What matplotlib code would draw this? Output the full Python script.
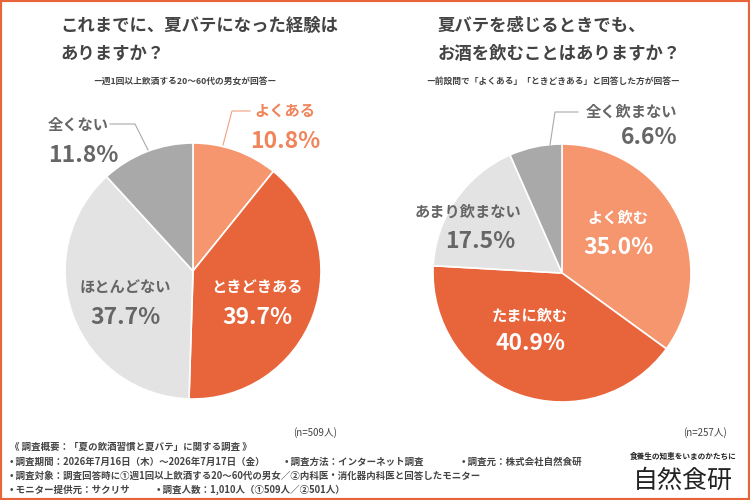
import matplotlib
matplotlib.use("Agg")
import matplotlib.pyplot as plt
from matplotlib.patches import Rectangle
from matplotlib.lines import Line2D

plt.rcParams['font.family'] = ['Noto Sans CJK JP', 'DejaVu Sans']

q1_labels = ["よくある", "ときどきある", "ほとんどない", "全くない"]
q1_values = [10.8, 39.7, 37.7, 11.8]
q2_labels = ["よく飲む", "たまに飲む", "あまり飲まない", "全く飲まない"]
q2_values = [35.0, 40.9, 17.5, 6.6]
colors = ["#F6966E", "#E8643A", "#E3E3E3", "#A9A9A9"]

W, H = 750, 500
fig = plt.figure(figsize=(7.5, 5), dpi=100, facecolor="white")
fig.patches.append(Rectangle((0, 0), 1, 1, transform=fig.transFigure, fill=False,
                             edgecolor="#E8643A", linewidth=3))


def px(x, y, s, **kw):
    fig.text(x / W, 1 - y / H, s, **kw)


def leader(xs, ys, c):
    fig.add_artist(Line2D([x / W for x in xs], [1 - y / H for y in ys],
                          transform=fig.transFigure, color=c, linewidth=0.8))


def pie(cx, cy, r, values):
    ax = fig.add_axes([(cx - r) / W, 1 - (cy + r) / H, 2 * r / W, 2 * r / H])
    ax.pie(values, colors=colors, startangle=90, counterclock=False,
           wedgeprops=dict(edgecolor="white", linewidth=1.2))
    ax.set_xlim(-1, 1)
    ax.set_ylim(-1, 1)
    ax.set_aspect("equal")
    ax.axis("off")


pie(193, 271, 128, q1_values)
pie(562, 273, 129, q2_values)

dark = "#444444"
grey = "#666666"
# titles
tf = 12.5
px(60, 26, "これまでに、夏バテになった経験は", fontsize=tf, weight="bold", color=dark, va="center")
px(60, 54, "ありますか？", fontsize=tf, weight="bold", color=dark, va="center")
px(185, 81, "ー週1回以上飲酒する20〜60代の男女が回答ー", fontsize=6.3, weight="bold", color=dark, ha="center", va="center")
px(438, 26, "夏バテを感じるときでも、", fontsize=tf, weight="bold", color=dark, va="center")
px(438, 54, "お酒を飲むことはありますか？", fontsize=tf, weight="bold", color=dark, va="center")
px(553, 81, "ー前設問で「よくある」「ときどきある」と回答した方が回答ー", fontsize=6.3, weight="bold", color=dark, ha="center", va="center")


def lab(x, y1, y2, name, val, c, ha="center", x2=None):
    px(x, y1, name, fontsize=11, weight="bold", color=c, ha=ha, va="center")
    px(x if x2 is None else x2, y2, f"{val:.1f}%", fontsize=16.5, weight="bold",
       color=c, ha=ha, va="center")


orange_txt = "#F0845A"
lab(285, 111, 141, q1_labels[0], q1_values[0], orange_txt)
leader([223, 232, 250], [145, 111, 111], "#F0A080")
lab(257, 287, 318, q1_labels[1], q1_values[1], "white")
lab(125, 287, 318, q1_labels[2], q1_values[2], grey)
lab(48, 125, 156, q1_labels[3], q1_values[3], grey, ha="left")
leader([110, 135, 148], [124, 124, 150], "#AAAAAA")

lab(618, 218, 247, q2_labels[0], q2_values[0], "white")
lab(530, 316, 344, q2_labels[1], q2_values[1], "white")
lab(468, 212, 241, q2_labels[2], q2_values[2], grey, x2=480)
lab(677, 112, 138, q2_labels[3], q2_values[3], grey, ha="right")
leader([550, 555, 578], [145, 112, 112], "#AAAAAA")

px(315, 433, "(n=509人)", fontsize=7, color=dark, ha="center", va="center")
px(705, 433, "(n=257人)", fontsize=7, color=dark, ha="center", va="center")

# footnotes
fs = 6.8
px(10, 447, "《 調査概要：「夏の飲酒習慣と夏バテ」に関する調査 》", fontsize=fs, weight="bold", color=dark, va="center")
px(10, 462, "• 調査期間：2026年7月16日（木）〜2026年7月17日（金）", fontsize=fs, weight="bold", color=dark, va="center")
px(285, 462, "• 調査方法：インターネット調査", fontsize=fs, weight="bold", color=dark, va="center")
px(462, 462, "• 調査元：株式会社自然食研", fontsize=fs, weight="bold", color=dark, va="center")
px(10, 476, "• 調査対象：調査回答時に①週1回以上飲酒する20〜60代の男女／②内科医・消化器内科医と回答したモニター",
   fontsize=fs, weight="bold", color=dark, va="center")
px(10, 490, "• モニター提供元：サクリサ", fontsize=fs, weight="bold", color=dark, va="center")
px(157, 490, "• 調査人数：1,010人（①509人／②501人）", fontsize=fs, weight="bold", color=dark, va="center")

px(683, 456, "食養生の知恵をいまのかたちに", fontsize=5.5, weight="bold", color="#222222", ha="center", va="center")
px(683, 481, "自然食研", fontsize=18, color="#222222", ha="center", va="center")

fig.savefig("out.png", dpi=100, facecolor="white")
